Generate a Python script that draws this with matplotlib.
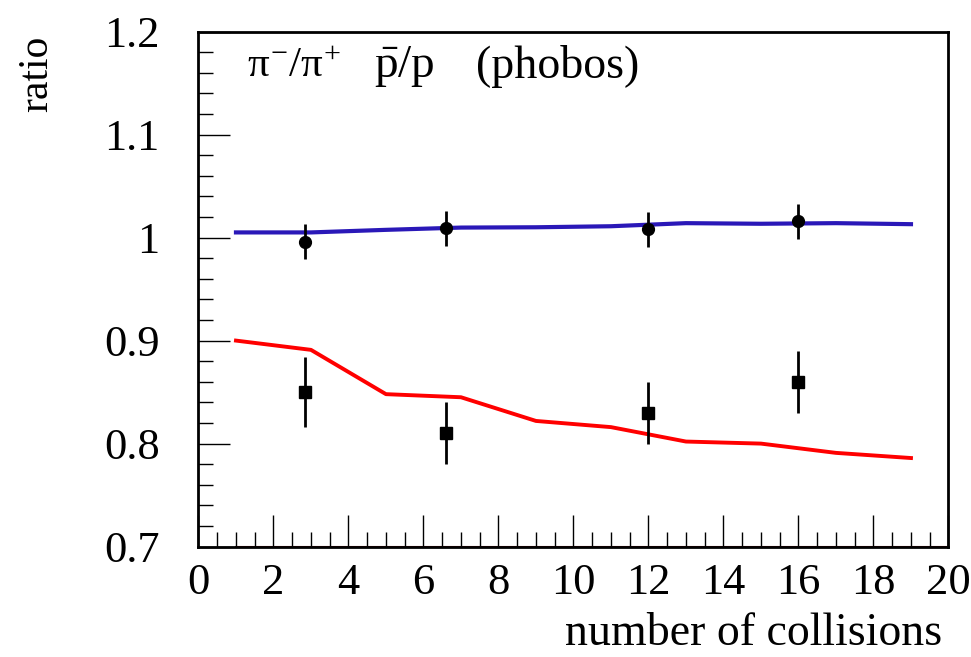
import matplotlib
matplotlib.use('Agg')
import matplotlib.pyplot as plt
from matplotlib.ticker import MultipleLocator

plt.rcParams['font.family'] = ['Liberation Serif', 'DejaVu Serif']
plt.rcParams['mathtext.fontset'] = 'custom'
plt.rcParams['mathtext.rm'] = 'Liberation Serif'
plt.rcParams['mathtext.it'] = 'Liberation Serif'
plt.rcParams['mathtext.bf'] = 'Liberation Serif:bold'

# model curves
model_x = [1, 3, 5, 7, 9, 11, 13, 15, 17, 19]
pion_model = [1.005, 1.005, 1.0075, 1.0097, 1.010, 1.011, 1.014, 1.0134, 1.014, 1.013]
proton_model = [0.900, 0.891, 0.848, 0.845, 0.822, 0.816, 0.802, 0.800, 0.791, 0.786]

# phobos data
data_x = [2.84, 6.59, 12.0, 16.0]
pion_data = [0.996, 1.009, 1.008, 1.016]
pion_err = [0.017, 0.017, 0.017, 0.017]
proton_data = [0.850, 0.810, 0.830, 0.860]
proton_err = [0.034, 0.030, 0.030, 0.030]

fig = plt.figure(figsize=(9.71, 6.57), dpi=100)
ax = fig.add_axes([0.2044, 0.168, 0.7724, 0.784])

ax.plot([1, 20], [0.7, 0.7], color='#7a0000', lw=1.5, zorder=1)
ax.plot(model_x, pion_model, color='#2a18b8', lw=3.0, zorder=2)
ax.plot(model_x, proton_model, color='#ff0000', lw=2.8, zorder=2)
ax.errorbar(data_x, pion_data, yerr=pion_err, fmt='o', color='black',
            ms=8.5, elinewidth=2.0, capsize=0, zorder=3)
ax.errorbar(data_x, proton_data, yerr=proton_err, fmt='s', color='black',
            ms=8.5, elinewidth=2.0, capsize=0, zorder=3)

ax.set_xlim(0, 20)
ax.set_ylim(0.7, 1.2)
ax.xaxis.set_major_locator(MultipleLocator(2))
ax.xaxis.set_minor_locator(MultipleLocator(0.5))
ax.yaxis.set_major_locator(MultipleLocator(0.1))
ax.yaxis.set_minor_locator(MultipleLocator(0.02))
ax.set_yticks([0.7, 0.8, 0.9, 1.0, 1.1, 1.2])
ax.set_yticklabels(['0.7', '0.8', '0.9', '1', '1.1', '1.2'])

ax.tick_params(which='both', direction='in', top=False, right=False, width=1, color='black')
ax.tick_params(which='major', length=23, labelsize=32)
ax.tick_params(which='minor', length=11)
ax.tick_params(axis='x', which='major', pad=12)
ax.tick_params(axis='y', which='major', pad=28)
for s in ax.spines.values():
    s.set_linewidth(2)

ax.text(1.3, 1.166, r'$\pi^{-}/\pi^{+}$', fontsize=31, va='center', ha='left')
ax.text(4.68, 1.166, r'$\bar{p}$/p', fontsize=34, va='center', ha='left')
ax.text(7.4, 1.166, '(phobos)', fontsize=33, va='center', ha='left')

fig.text(0.970, 0.035, 'number of collisions', fontsize=33, ha='right', va='center')
fig.text(0.038, 0.887, 'ratio', fontsize=30, ha='center', va='center', rotation=90)

fig.savefig('out.png', dpi=100)
